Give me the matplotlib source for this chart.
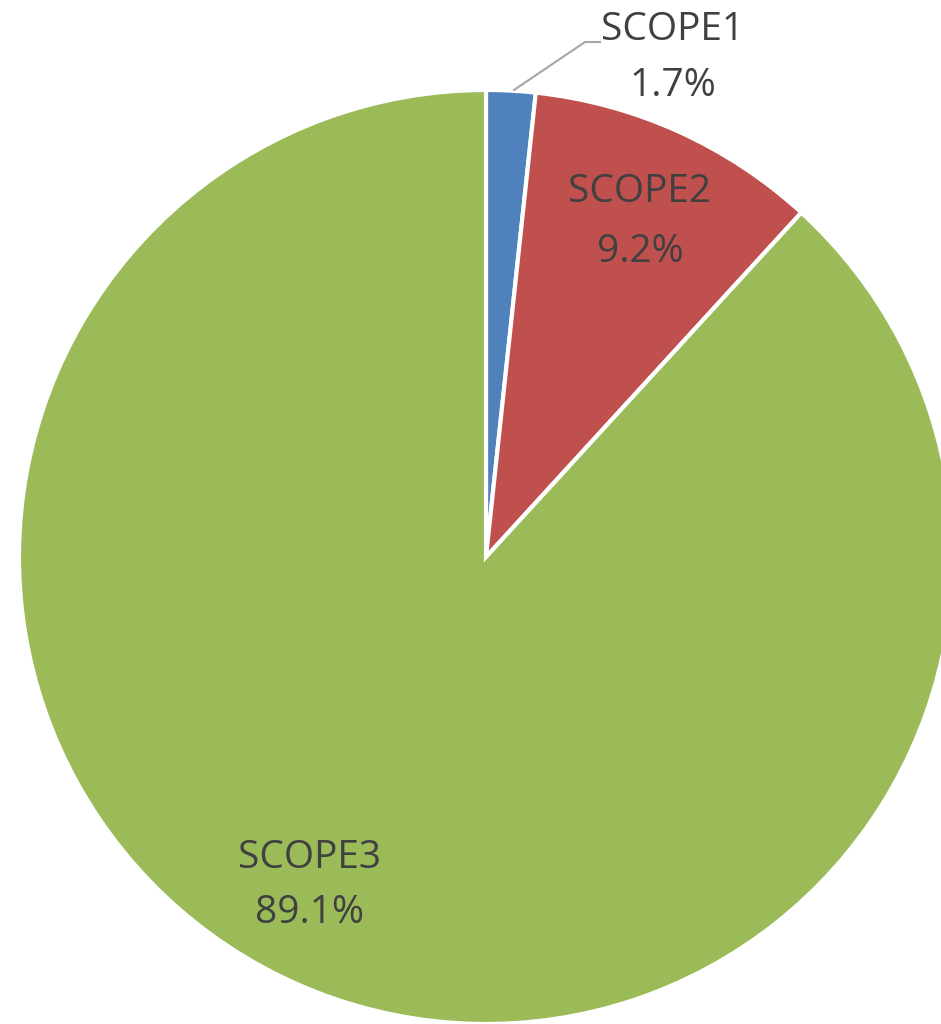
import matplotlib.pyplot as plt

categories = ["SCOPE1", "SCOPE2", "SCOPE3"]
# slice sizes as measured from the wedge angles in the picture
slice_values = [1.7, 10.1, 88.2]
# percentages printed in the labels
label_pct = ["1.7%", "9.2%", "89.1%"]
colors = ["#4F81BD", "#C0504D", "#9BBB59"]

W, H = 941, 1024
fig = plt.figure(figsize=(W / 100, H / 100), dpi=100)
ax = fig.add_axes([0, 0, 1, 1])

# pixel coords measured from top, converted to y-up
def yy(y):
    return H - y

cx, cy, r = 486, 557, 467
ax.pie(slice_values, colors=colors, startangle=90, counterclock=False,
       center=(cx, yy(cy)), radius=r, frame=True,
       wedgeprops=dict(edgecolor="white", linewidth=3))
ax.set_xlim(0, W)
ax.set_ylim(0, H)
ax.set_aspect("equal")
ax.axis("off")

txt = dict(color="#404040", fontsize=28, family="Open Sans", ha="center", va="center")
label_pos = [(673, 30, 86), (640, 192, 252), (310, 858, 913)]
for name, pct, (x, y1, y2) in zip(categories, label_pct, label_pos):
    ax.text(x, yy(y1), name, **txt)
    ax.text(x, yy(y2), pct, **txt)

# leader line for the small slice
ax.plot([514, 585, 600], [yy(90), yy(42), yy(42)], color="#A6A6A6", lw=1.5)

fig.savefig("out.png", dpi=100)
